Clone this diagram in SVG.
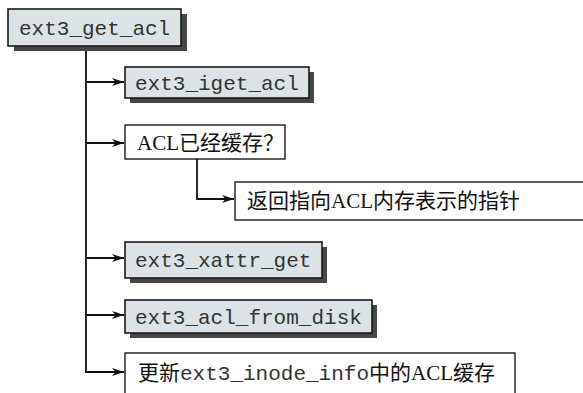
<svg xmlns="http://www.w3.org/2000/svg" width="583" height="393" viewBox="0 0 583 393">
<style>
.code{fill:#dce3e6;stroke:#1a1a1a;stroke-width:1.6}
.sh{fill:#474747}
.plain{fill:#fff;stroke:#1a1a1a;stroke-width:1.4}
.mono{font-family:"Liberation Mono","DejaVu Sans Mono",monospace;font-size:21px;fill:#333}
.cn{font-family:"Liberation Serif","Noto Sans CJK SC",serif;font-size:21px;fill:#111}
.ln{fill:none;stroke:#111;stroke-width:1.8}
</style>
<defs>
<marker id="ah" viewBox="0 0 12 10" refX="12" refY="5" markerWidth="12" markerHeight="10" markerUnits="userSpaceOnUse" orient="auto">
<path d="M0,1 L12,5 L0,9 L3.5,5 Z" fill="#111"/>
</marker>
</defs>
<g id="connectors">
<path class="ln" d="M86,46 V372 H124" marker-end="url(#ah)"/>
<path class="ln" d="M86,82 H124" marker-end="url(#ah)"/>
<path class="ln" d="M86,143 H124" marker-end="url(#ah)"/>
<path class="ln" d="M86,258 H124" marker-end="url(#ah)"/>
<path class="ln" d="M86,315 H124" marker-end="url(#ah)"/>
<path class="ln" d="M197,159 V199 H234" marker-end="url(#ah)"/>
</g>
<g id="n_get_acl">
<rect class="sh" x="14" y="14" width="173" height="37"/>
<rect class="code" x="8" y="9" width="173" height="37"/>
<text class="mono" x="19" y="35">ext3_get_acl</text>
</g>
<g id="n_iget_acl">
<rect class="sh" x="130" y="72" width="184" height="31"/>
<rect class="code" x="125" y="67" width="184" height="31"/>
<text class="mono" x="135" y="90">ext3_iget_acl</text>
</g>
<g id="n_cached">
<rect class="plain" x="125" y="125" width="160" height="34"/>
<text class="cn" x="137" y="150">ACL已经缓存？</text>
</g>
<g id="n_return">
<rect class="plain" x="235" y="182" width="360" height="38"/>
<text class="cn" x="247" y="208">返回指向ACL内存表示的指针</text>
</g>
<g id="n_xattr_get">
<rect class="sh" x="130" y="247" width="197" height="36"/>
<rect class="code" x="125" y="242" width="197" height="36"/>
<text class="mono" x="135" y="267">ext3_xattr_get</text>
</g>
<g id="n_from_disk">
<rect class="sh" x="130" y="305" width="247" height="33"/>
<rect class="code" x="125" y="300" width="247" height="33"/>
<text class="mono" x="135" y="324">ext3_acl_from_disk</text>
</g>
<g id="n_update">
<rect class="plain" x="125" y="353" width="390" height="50"/>
<text class="cn" x="138" y="380">更新<tspan class="mono">ext3_inode_info</tspan>中的ACL缓存</text>
</g>
</svg>
